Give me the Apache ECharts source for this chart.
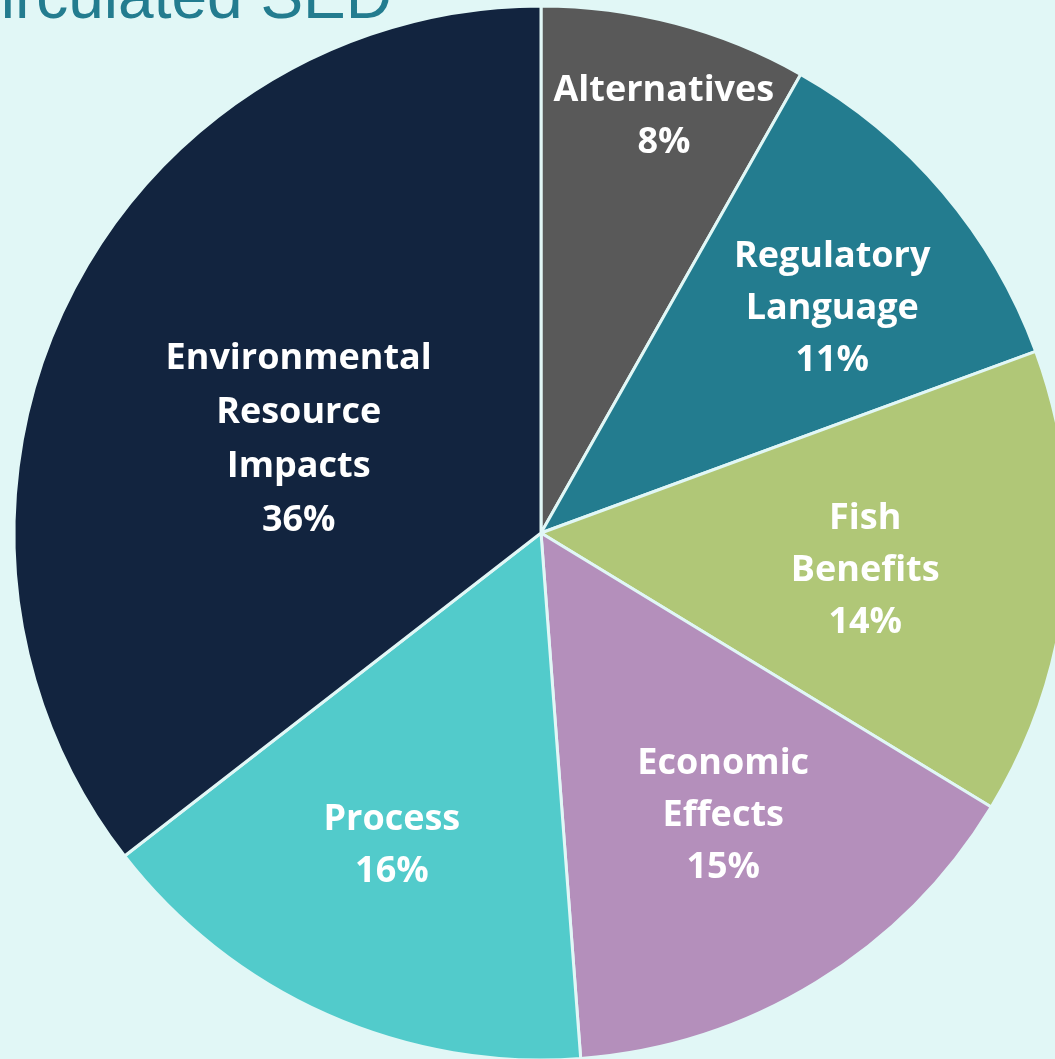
<!DOCTYPE html>
<html>
<head>
<meta charset="utf-8">
<script src="https://cdn.jsdelivr.net/npm/echarts@6/dist/echarts.min.js"></script>
<style>
html,body{margin:0;padding:0;background:#e1f7f6;}
#chart{width:1055px;height:1059px;}
</style>
</head>
<body>
<div id="chart"></div>
<script>
const titleText = 'Comments on Recirculated SED';
const categories = ['Alternatives', 'Regulatory\nLanguage', 'Fish\nBenefits', 'Economic\nEffects', 'Process', 'Environmental\nResource\nImpacts'];
const values = [8.2, 11.2, 14.3, 15.1, 15.7, 35.5];
const colors = ['#595959', '#237c8f', '#b0c777', '#b48fbb', '#52cbcb', '#12243f'];
const labelOffsets = [[55, -159], [88, -52], [59, 12], [43, 56], [-41, 69], [-3, 24]];

const chart = echarts.init(document.getElementById('chart'), null, {renderer: 'canvas'});
chart.setOption({
  backgroundColor: '#e1f7f6',
  animation: false,
  graphic: [{
    type: 'text',
    right: 1055 - 392,
    top: -32,
    style: {
      text: titleText,
      fontSize: 64,
      fontWeight: 'normal',
      fontFamily: 'Liberation Sans',
      fill: '#237c8f',
      textAlign: 'right'
    }
  }],
  series: [{
    type: 'pie',
    center: [541, 533],
    radius: [0, 527],
    startAngle: 90,
    clockwise: true,
    percentPrecision: 0,
    itemStyle: {borderColor: '#e1f7f6', borderWidth: 3},
    label: {
      show: true,
      position: 'inside',
      formatter: '{b}\n{d}%',
      color: '#ffffff',
      fontFamily: 'Open Sans',
      fontWeight: 'bold',
      fontSize: 36,
      lineHeight: 52,
      align: 'center'
    },
    labelLine: {show: false},
    emphasis: {disabled: true},
    data: categories.map((c, i) => ({
      name: c,
      value: values[i],
      itemStyle: {color: colors[i]},
      label: {offset: labelOffsets[i], lineHeight: i === 5 ? 54 : 52}
    }))
  }]
});
</script>
</body>
</html>
